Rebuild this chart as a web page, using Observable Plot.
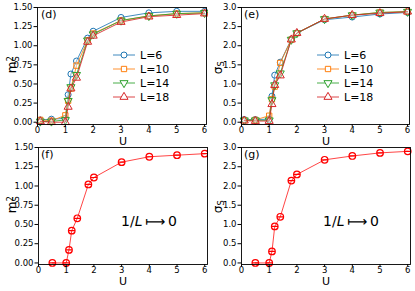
<!DOCTYPE html>
<html><head><meta charset="utf-8">
<script src="https://cdn.jsdelivr.net/npm/d3@7"></script>
<script src="https://cdn.jsdelivr.net/npm/@observablehq/plot@0.6"></script>
<style>
body{margin:0;background:#fff;font-family:"DejaVu Sans",sans-serif;}
#c{position:relative;width:415px;height:291px;overflow:hidden;background:#fff;}
.p{position:absolute;}
.t{position:absolute;white-space:nowrap;line-height:1;color:#000;font-family:"DejaVu Sans",sans-serif;}
</style></head><body><div id="c"></div>
<script>
// ---- data ----
const U = [0.1, 0.5, 1.0, 1.1, 1.2, 1.4, 1.8, 2, 3, 4, 5, 6];
const sizeLabels = ["L=6", "L=10", "L=14", "L=18"];
const m2_L6  = [0.03, 0.04, 0.05, 0.36, 0.63, 0.80, 1.10, 1.19, 1.37, 1.43, 1.45, 1.45];
const m2_L10 = [0.03, 0.02, 0.09, 0.28, 0.44, 0.74, 1.07, 1.16, 1.33, 1.39, 1.42, 1.43];
const m2_L14 = [0.01, 0.01, 0.03, 0.28, 0.46, 0.62, 1.07, 1.15, 1.33, 1.39, 1.42, 1.43];
const m2_L18 = [0.01, 0.00, 0.00, 0.20, 0.44, 0.58, 1.05, 1.13, 1.31, 1.38, 1.40, 1.42];
const sig_L6  = [0.07, 0.07, 0.08, 0.68, 1.23, 1.57, 2.17, 2.33, 2.68, 2.75, 2.83, 2.87];
const sig_L10 = [0.05, 0.06, 0.17, 0.60, 0.93, 1.55, 2.16, 2.33, 2.70, 2.80, 2.87, 2.89];
const sig_L14 = [0.05, 0.05, 0.05, 0.58, 0.97, 1.28, 2.16, 2.33, 2.70, 2.80, 2.87, 2.89];
const sig_L18 = [0.04, 0.03, 0.03, 0.47, 0.97, 1.22, 2.16, 2.33, 2.70, 2.80, 2.85, 2.89];
const Uinf = [0.5, 1.0, 1.1, 1.2, 1.4, 1.8, 2, 3, 4, 5, 6];
const m2_inf  = [0.00, 0.00, 0.17, 0.42, 0.58, 1.02, 1.11, 1.31, 1.38, 1.40, 1.42];
const sig_inf = [0.00, 0.00, 0.30, 0.95, 1.20, 2.14, 2.30, 2.68, 2.78, 2.86, 2.90];
const xTicks = [0, 1, 2, 3, 4, 5, 6];
const m2Ticks = [0, 0.25, 0.5, 0.75, 1.0, 1.25, 1.5];
const sigTicks = [0, 0.5, 1.0, 1.5, 2.0, 2.5, 3.0];

// ---- styles ----
const colors = ["#1f77b4", "#ff7f0e", "#2ca02c", "#d62728"];
const triDown = {draw(ctx, size) {
  const y = -Math.sqrt(size / (3 * Math.sqrt(3)));
  ctx.moveTo(0, -y * 2); ctx.lineTo(Math.sqrt(3) * y, y); ctx.lineTo(-Math.sqrt(3) * y, y); ctx.closePath();
}};
const circBar = {draw(ctx, size) {
  const r = Math.sqrt(size / Math.PI);
  ctx.moveTo(r, 0); ctx.arc(0, 0, r, 0, 2 * Math.PI);
  ctx.moveTo(-r - 0.5, 0); ctx.lineTo(r + 0.5, 0);
}};
const symbols = ["circle", "square", triDown, "triangle"];

const C = document.getElementById("c");
function place(el, left, top) { el.classList.add("p"); el.style.left = left + "px"; el.style.top = top + "px"; C.appendChild(el); }
function text(html, left, top, size, extra) {
  const d = document.createElement("div"); d.className = "t"; d.innerHTML = html;
  d.style.left = left + "px"; d.style.top = top + "px"; d.style.fontSize = size + "px";
  if (extra) Object.assign(d.style, extra);
  C.appendChild(d); return d;
}

function basePlot(o) {
  return Plot.plot({
    width: o.width, height: o.height,
    marginLeft: o.ml, marginRight: o.mr, marginTop: o.mt, marginBottom: o.mb,
    style: {fontSize: "8.5px", fontFamily: "DejaVu Sans, sans-serif", background: "transparent", color: "#000"},
    x: {domain: o.xd}, y: {domain: o.yd},
    marks: [
      ...o.marks,
      Plot.frame({stroke: "#000", strokeWidth: 0.9}),
      Plot.axisX({ticks: xTicks, tickFormat: d3.format("d"), tickSize: 2.5, tickPadding: 0, label: null}),
      Plot.axisY({ticks: o.yt, tickFormat: d3.format(o.fmt), tickSize: 3.5, tickPadding: 1.5, label: null})
    ]
  });
}

function seriesMarks(seriesList) {
  const marks = [];
  seriesList.forEach((vals, i) => {
    const rows = U.map((u, j) => ({u, v: vals[j]}));
    marks.push(Plot.line(rows, {x: "u", y: "v", stroke: colors[i], strokeWidth: 1, strokeOpacity: 0.85}));
    marks.push(Plot.dot(rows, {x: "u", y: "v", symbol: symbols[i], r: 3, stroke: colors[i], strokeWidth: 1, fill: "white", fillOpacity: 0.3}));
  });
  return marks;
}
function infMarks(vals) {
  const rows = Uinf.map((u, j) => ({u, v: vals[j]}));
  return [
    Plot.line(rows, {x: "u", y: "v", stroke: "#ff3030", strokeWidth: 0.9}),
    Plot.dot(rows, {x: "u", y: "v", symbol: circBar, r: 3.3, stroke: "#ff0000", strokeWidth: 1.2, fill: "none"})
  ];
}

// panel (d)
place(basePlot({width: 208, height: 145, ml: 37, mr: 2, mt: 7, mb: 21, xd: [0, 6.07], yd: [-0.03, 1.5],
  yt: m2Ticks, fmt: ".2f", marks: seriesMarks([m2_L6, m2_L10, m2_L14, m2_L18])}), 0, 0);
// panel (e)
place(basePlot({width: 210, height: 145, ml: 36, mr: 6, mt: 7, mb: 21, xd: [0, 6.07], yd: [-0.06, 3.0],
  yt: sigTicks, fmt: ".1f", marks: seriesMarks([sig_L6, sig_L10, sig_L14, sig_L18])}), 205, 0);
// panel (f)
place(basePlot({width: 208, height: 151, ml: 38, mr: 1, mt: 7, mb: 27, xd: [0, 6.1], yd: [-0.02, 1.5],
  yt: m2Ticks, fmt: ".2f", marks: infMarks(m2_inf)}), 0, 140);
// panel (g)
place(basePlot({width: 210, height: 151, ml: 36, mr: 5, mt: 7, mb: 27, xd: [0, 6.1], yd: [-0.04, 3.0],
  yt: sigTicks, fmt: ".1f", marks: infMarks(sig_inf)}), 205, 140);

// legends
function legend(left, top) {
  const svg = d3.create("svg").attr("width", 70).attr("height", 56).style("overflow", "visible");
  sizeLabels.forEach((lab, i) => {
    const y = 4 + i * 14;
    svg.append("line").attr("x1", 0).attr("x2", 22).attr("y1", y).attr("y2", y)
      .attr("stroke", colors[i]).attr("stroke-width", 1).attr("stroke-opacity", 0.85);
    const sym = typeof symbols[i] === "string"
      ? {circle: d3.symbolCircle, square: d3.symbolSquare, triangle: d3.symbolTriangle}[symbols[i]] : symbols[i];
    svg.append("path").attr("d", d3.symbol(sym, Math.PI * 9)()).attr("transform", `translate(11,${y})`)
      .attr("stroke", colors[i]).attr("fill", "white").attr("stroke-width", 1);
    svg.append("text").attr("x", 27).attr("y", y).attr("dy", "0.36em").attr("font-size", 11)
      .attr("font-family", "DejaVu Sans, sans-serif").text(lab);
  });
  const n = svg.node(); n.style.position = "absolute"; n.style.left = left + "px"; n.style.top = top + "px";
  C.appendChild(n);
}
legend(113, 51);
legend(317, 51);

// panel tags
text("(d)", 41, 9, 11);
text("(e)", 244, 9, 11);
text("(f)", 41, 149, 11);
text("(g)", 244, 149, 11);
// x labels
const ux = {lineHeight: "0.8"};
text("U", 119, 137.5, 11, ux);
text("U", 322, 137.5, 11, ux);
text("U", 119, 278, 11, ux);
text("U", 322, 278, 11, ux);
// y labels
const m2Label = 'm<span style="display:inline-block;vertical-align:-0.35em;line-height:0.75;font-size:0.7em;text-align:left"><span style="display:block">2</span><span style="display:block">S</span></span>';
const sigLabel = 'σ<span style="font-size:0.7em;vertical-align:-0.25em">S</span>';
function ylabel(html, cx, cy) {
  const d = text(html, 0, 0, 12, {transformOrigin: "center center"});
  const w = d.offsetWidth, h = d.offsetHeight;
  d.style.left = (cx - w / 2) + "px"; d.style.top = (cy - h / 2) + "px";
  d.style.transform = "rotate(-90deg)";
}
ylabel(m2Label, 12, 64);
ylabel(sigLabel, 218, 68);
ylabel(m2Label, 12, 204);
ylabel(sigLabel, 218, 207);
// 1/L -> 0
text('1/<i>L</i>&#x2009;&#x27FC;&#x2009;0', 121, 214, 14);
text('1/<i>L</i>&#x2009;&#x27FC;&#x2009;0', 323, 214, 14);
</script></body></html>
